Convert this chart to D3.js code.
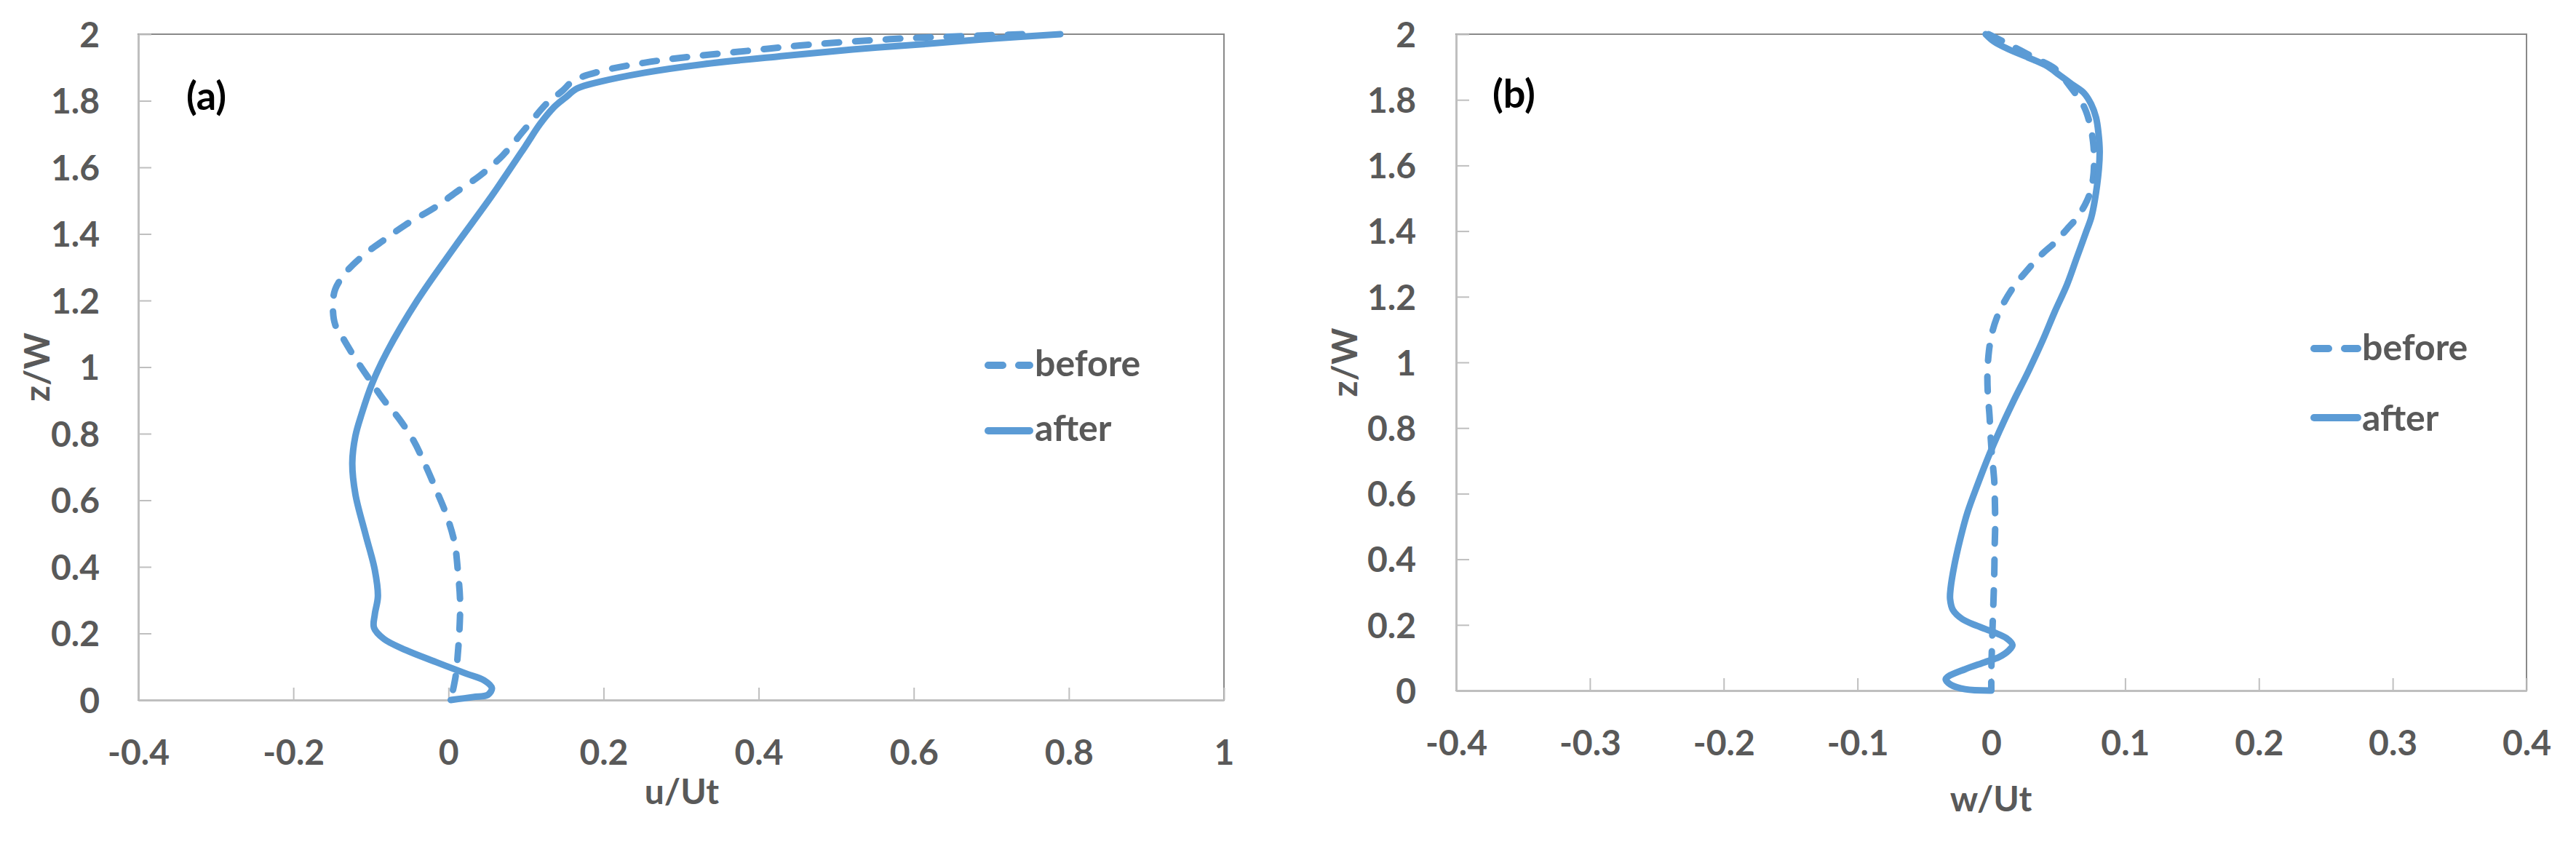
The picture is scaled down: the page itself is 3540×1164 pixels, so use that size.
<!DOCTYPE html>
<html>
<head>
<meta charset="utf-8">
<script src="https://cdn.jsdelivr.net/npm/d3@7"></script>
<style>
  body { margin: 0; background: #ffffff; }
  text { font-family: Lato, "Open Sans", "DejaVu Sans", sans-serif; font-weight: 700; }
</style>
</head>
<body>
<svg id="chart" width="3540" height="1164"></svg>
<script>
// ---------- data ----------
const seriesNames = ["before", "after"];
const yTickValues = [0, 0.2, 0.4, 0.6, 0.8, 1, 1.2, 1.4, 1.6, 1.8, 2];
const xTickValuesA = [-0.4, -0.2, 0, 0.2, 0.4, 0.6, 0.8, 1];
const xTickValuesB = [-0.4, -0.3, -0.2, -0.1, 0, 0.1, 0.2, 0.3, 0.4];
const panelLabels = ["(a)", "(b)"];
const xTitles = ["u/Ut", "w/Ut"];
const yTitle = "z/W";

// panel (a): [u/Ut, z/W]
const aBefore = [
  [0.74, 2.0], [0.65, 1.993], [0.569, 1.985], [0.453, 1.966], [0.386, 1.950],
  [0.310, 1.932], [0.252, 1.914], [0.195, 1.888], [0.161, 1.860], [0.147, 1.830],
  [0.128, 1.795], [0.099, 1.716], [0.070, 1.636], [0.041, 1.576], [0.012, 1.529],
  [-0.016, 1.482], [-0.055, 1.428], [-0.083, 1.382], [-0.107, 1.341], [-0.131, 1.288],
  [-0.146, 1.234], [-0.149, 1.181], [-0.146, 1.127], [-0.136, 1.087], [-0.122, 1.033],
  [-0.103, 0.967], [-0.083, 0.900], [-0.064, 0.846], [-0.045, 0.779], [-0.031, 0.712],
  [-0.016, 0.632], [-0.002, 0.552], [0.008, 0.471], [0.012, 0.391], [0.015, 0.297],
  [0.014, 0.203], [0.012, 0.137], [0.010, 0.083], [0.007, 0.043], [0.003, 0.0]
];
const aAfter = [
  [0.789, 2.0], [0.703, 1.987], [0.617, 1.971], [0.521, 1.954], [0.425, 1.933],
  [0.329, 1.910], [0.252, 1.884], [0.195, 1.857], [0.166, 1.837], [0.151, 1.810],
  [0.137, 1.783], [0.118, 1.730], [0.099, 1.663], [0.056, 1.515], [0.008, 1.361],
  [-0.040, 1.201], [-0.079, 1.047], [-0.098, 0.953], [-0.112, 0.859], [-0.120, 0.793],
  [-0.124, 0.712], [-0.120, 0.618], [-0.107, 0.498], [-0.095, 0.391], [-0.091, 0.311],
  [-0.095, 0.257], [-0.096, 0.217], [-0.083, 0.183], [-0.055, 0.150], [-0.016, 0.114],
  [0.022, 0.080], [0.046, 0.059], [0.056, 0.036], [0.051, 0.016], [0.032, 0.009],
  [0.003, 0.0]
];

// panel (b): [w/Ut, z/W]
const bBefore = [
  [-0.002, 2.0], [0.0094, 1.977], [0.0221, 1.950], [0.0348, 1.923], [0.0475, 1.895],
  [0.0601, 1.834], [0.0692, 1.780], [0.0737, 1.726], [0.0761, 1.671], [0.0768, 1.617],
  [0.0761, 1.562], [0.0737, 1.515], [0.0701, 1.481], [0.0638, 1.440], [0.0565, 1.406],
  [0.0475, 1.365], [0.0384, 1.332], [0.0275, 1.284], [0.0167, 1.230], [0.0094, 1.182],
  [0.0040, 1.135], [0.0004, 1.087], [-0.0018, 1.033], [-0.0029, 0.965], [-0.0025, 0.897],
  [-0.0014, 0.842], [-0.0005, 0.774], [0.0007, 0.707], [0.0022, 0.639], [0.0027, 0.571],
  [0.0029, 0.503], [0.0025, 0.435], [0.0022, 0.353], [0.0016, 0.272], [0.0009, 0.190],
  [0.0004, 0.122], [0.0, 0.054], [0.0, 0.0]
];
const bAfter = [
  [-0.0042, 2.0], [0.0022, 1.977], [0.0130, 1.954], [0.0275, 1.929], [0.0420, 1.902],
  [0.0511, 1.875], [0.0601, 1.848], [0.0692, 1.821], [0.0746, 1.787], [0.0783, 1.746],
  [0.0801, 1.698], [0.0810, 1.644], [0.0804, 1.590], [0.0774, 1.495], [0.0746, 1.440],
  [0.0710, 1.399], [0.0638, 1.318], [0.0565, 1.236], [0.0475, 1.155], [0.0384, 1.067],
  [0.0275, 0.971], [0.0167, 0.883], [0.0058, 0.788], [-0.0014, 0.720], [-0.0105, 0.625],
  [-0.0178, 0.543], [-0.0232, 0.462], [-0.0277, 0.380], [-0.0304, 0.312], [-0.0308, 0.279],
  [-0.0286, 0.245], [-0.0214, 0.217], [-0.0105, 0.197], [0.0022, 0.177], [0.0112, 0.160],
  [0.0158, 0.139], [0.0130, 0.122], [0.0058, 0.102], [-0.0051, 0.086], [-0.0196, 0.065],
  [-0.0322, 0.043], [-0.0341, 0.034], [-0.0304, 0.018], [-0.0196, 0.004], [-0.0014, 0.0]
];

// ---------- layout / style ----------
const BLUE = "#5B9BD5";
const TEXT = "#595959";
const AXIS = "#BFBFBF";
const BORDER = "#898989";
const FS = 48;

const panels = [
  { xDomain: [-0.4, 1], xTicks: xTickValuesA, left: 190, right: 1682, top: 47, bottom: 962,
    series: [aBefore, aAfter], label: panelLabels[0], labelX: 256, labelY: 151,
    xTitle: xTitles[0], xTitleX: 937, xTitleY: 1105, yTitleX: 68, yPad: 53,
    legX0: 1358, legX1: 1415, legTextX: 1422, legLineY: [502, 592], legTextY: [517, 606] },
  { xDomain: [-0.4, 0.4], xTicks: xTickValuesB, left: 2001, right: 3472, top: 47, bottom: 949,
    series: [bBefore, bAfter], label: panelLabels[1], labelX: 2051, labelY: 148,
    xTitle: xTitles[1], xTitleX: 2736, xTitleY: 1115, yTitleX: 1865, yPad: 55,
    legX0: 3180, legX1: 3240, legTextX: 3246, legLineY: [479, 574], legTextY: [495, 592] }
];

const svg = d3.select("#chart");
const fmt = d => String(+(+d).toFixed(1));

panels.forEach(p => {
  const x = d3.scaleLinear().domain(p.xDomain).range([p.left, p.right]);
  const y = d3.scaleLinear().domain([0, 2]).range([p.bottom, p.top]);
  const g = svg.append("g");

  // plot-area border
  g.append("rect")
    .attr("x", p.left).attr("y", p.top)
    .attr("width", p.right - p.left).attr("height", p.bottom - p.top)
    .attr("fill", "none").attr("stroke", BORDER).attr("stroke-width", 2);

  // x axis
  const xa = g.append("g").attr("transform", `translate(0,${p.bottom})`)
    .call(d3.axisBottom(x).tickValues(p.xTicks).tickFormat(fmt)
      .tickSize(-17).tickSizeOuter(0).tickPadding(55));
  xa.select(".domain").attr("stroke", AXIS).attr("stroke-width", 3);
  xa.selectAll(".tick line").attr("stroke", AXIS).attr("stroke-width", 2);
  xa.selectAll(".tick text").attr("fill", TEXT).attr("font-size", FS)
    .style("font-family", "Lato, 'Open Sans', sans-serif").style("font-weight", 700);

  // y axis
  const ya = g.append("g").attr("transform", `translate(${p.left},0)`)
    .call(d3.axisLeft(y).tickValues(yTickValues).tickFormat(fmt)
      .tickSize(-18).tickSizeOuter(0).tickPadding(p.yPad));
  ya.select(".domain").attr("stroke", AXIS).attr("stroke-width", 3);
  ya.selectAll(".tick line").attr("stroke", AXIS).attr("stroke-width", 2);
  ya.selectAll(".tick text").attr("fill", TEXT).attr("font-size", FS).attr("dy", "0.36em")
    .style("font-family", "Lato, 'Open Sans', sans-serif").style("font-weight", 700);

  // curves
  const line = d3.line().x(d => x(d[0])).y(d => y(d[1])).curve(d3.curveCatmullRom.alpha(0.5));
  p.series.forEach((s, i) => {
    g.append("path").datum(s)
      .attr("d", line)
      .attr("fill", "none").attr("stroke", BLUE).attr("stroke-width", 9)
      .attr("stroke-linecap", "round").attr("stroke-linejoin", "round")
      .attr("stroke-dasharray", i === 0 ? "20,22" : null);
  });

  // panel label
  g.append("text").attr("x", p.labelX).attr("y", p.labelY)
    .attr("fill", "#000000").attr("font-size", 54).text(p.label);

  // axis titles
  g.append("text").attr("x", p.xTitleX).attr("y", p.xTitleY)
    .attr("text-anchor", "middle").attr("fill", TEXT).attr("font-size", FS).text(p.xTitle);
  const yc = (p.top + p.bottom) / 2;
  g.append("text")
    .attr("transform", `translate(${p.yTitleX},${yc}) rotate(-90)`)
    .attr("text-anchor", "middle").attr("fill", TEXT).attr("font-size", FS).text(yTitle);

  // legend
  seriesNames.forEach((name, i) => {
    g.append("line")
      .attr("x1", p.legX0).attr("x2", p.legX1)
      .attr("y1", p.legLineY[i]).attr("y2", p.legLineY[i])
      .attr("stroke", BLUE).attr("stroke-width", 10).attr("stroke-linecap", "round")
      .attr("stroke-dasharray", i === 0 ? "20,22" : null);
    g.append("text").attr("x", p.legTextX).attr("y", p.legTextY[i])
      .attr("fill", TEXT).attr("font-size", 50).text(name);
  });
});
</script>
</body>
</html>
